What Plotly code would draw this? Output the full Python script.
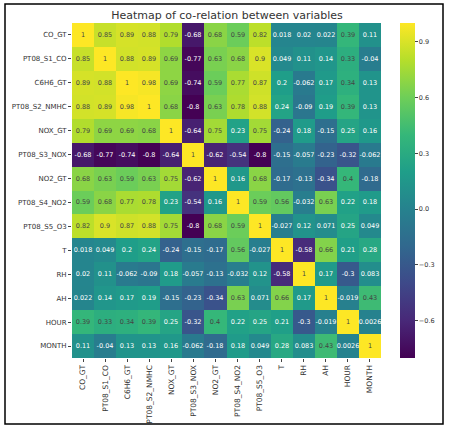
import plotly.graph_objects as go

labels = ["CO_GT", "PT08_S1_CO", "C6H6_GT", "PT08_S2_NMHC", "NOX_GT", "PT08_S3_NOX",
          "NO2_GT", "PT08_S4_NO2", "PT08_S5_O3", "T", "RH", "AH", "HOUR", "MONTH"]

row_CO_GT        = [1, 0.85, 0.89, 0.88, 0.79, -0.68, 0.68, 0.59, 0.82, 0.018, 0.02, 0.022, 0.39, 0.11]
row_PT08_S1_CO   = [0.85, 1, 0.88, 0.89, 0.69, -0.77, 0.63, 0.68, 0.9, 0.049, 0.11, 0.14, 0.33, -0.04]
row_C6H6_GT      = [0.89, 0.88, 1, 0.98, 0.69, -0.74, 0.59, 0.77, 0.87, 0.2, -0.062, 0.17, 0.34, 0.13]
row_PT08_S2_NMHC = [0.88, 0.89, 0.98, 1, 0.68, -0.8, 0.63, 0.78, 0.88, 0.24, -0.09, 0.19, 0.39, 0.13]
row_NOX_GT       = [0.79, 0.69, 0.69, 0.68, 1, -0.64, 0.75, 0.23, 0.75, -0.24, 0.18, -0.15, 0.25, 0.16]
row_PT08_S3_NOX  = [-0.68, -0.77, -0.74, -0.8, -0.64, 1, -0.62, -0.54, -0.8, -0.15, -0.057, -0.23, -0.32, -0.062]
row_NO2_GT       = [0.68, 0.63, 0.59, 0.63, 0.75, -0.62, 1, 0.16, 0.68, -0.17, -0.13, -0.34, 0.4, -0.18]
row_PT08_S4_NO2  = [0.59, 0.68, 0.77, 0.78, 0.23, -0.54, 0.16, 1, 0.59, 0.56, -0.032, 0.63, 0.22, 0.18]
row_PT08_S5_O3   = [0.82, 0.9, 0.87, 0.88, 0.75, -0.8, 0.68, 0.59, 1, -0.027, 0.12, 0.071, 0.25, 0.049]
row_T            = [0.018, 0.049, 0.2, 0.24, -0.24, -0.15, -0.17, 0.56, -0.027, 1, -0.58, 0.66, 0.21, 0.28]
row_RH           = [0.02, 0.11, -0.062, -0.09, 0.18, -0.057, -0.13, -0.032, 0.12, -0.58, 1, 0.17, -0.3, 0.083]
row_AH           = [0.022, 0.14, 0.17, 0.19, -0.15, -0.23, -0.34, 0.63, 0.071, 0.66, 0.17, 1, -0.019, 0.43]
row_HOUR         = [0.39, 0.33, 0.34, 0.39, 0.25, -0.32, 0.4, 0.22, 0.25, 0.21, -0.3, -0.019, 1, 0.0026]
row_MONTH        = [0.11, -0.04, 0.13, 0.13, 0.16, -0.062, -0.18, 0.18, 0.049, 0.28, 0.083, 0.43, 0.0026, 1]

z = [row_CO_GT, row_PT08_S1_CO, row_C6H6_GT, row_PT08_S2_NMHC, row_NOX_GT, row_PT08_S3_NOX,
     row_NO2_GT, row_PT08_S4_NO2, row_PT08_S5_O3, row_T, row_RH, row_AH, row_HOUR, row_MONTH]

cbar_ticks = [-0.6, -0.3, 0.0, 0.3, 0.6, 0.9]

text = [[f"{v:.2g}" for v in row] for row in z]

W, H = 450, 428
L, R, T, B = 72, 69, 23, 70
pw, ph = W - L - R, H - T - B

fig = go.Figure(go.Heatmap(
    z=z, x=labels, y=labels, text=text, texttemplate="%{text}",
    textfont=dict(size=6.5, family="DejaVu Sans"),
    colorscale="Viridis", zmin=-0.8, zmax=1.0,
    xgap=0, ygap=0,
    colorbar=dict(x=(400 - L) / pw, xanchor="left", xref="paper", xpad=0, ypad=0,
                  y=0, yanchor="bottom", len=1, lenmode="fraction",
                  thickness=15, outlinewidth=0,
                  tickvals=cbar_ticks, ticktext=[f"{v:.1f}".replace("-", "\u2212") for v in cbar_ticks],
                  ticks="outside", ticklen=3,
                  tickfont=dict(size=6.5, family="DejaVu Sans", color="#333")),
))

fig.update_layout(
    width=W, height=H,
    margin=dict(l=L, r=R, t=T, b=B, autoexpand=False),
    paper_bgcolor="white", plot_bgcolor="white",
    font=dict(family="DejaVu Sans", color="#333"),
    title=dict(text="Heatmap of co-relation between variables",
               x=(227 - L) / pw, xref="paper", xanchor="center",
               y=1 - 15 / H, yanchor="middle",
               font=dict(size=11, color="#333")),
    xaxis=dict(tickangle=-90, tickfont=dict(size=7.5), ticks="outside", ticklen=3,
               showgrid=False, zeroline=False),
    yaxis=dict(autorange="reversed", tickfont=dict(size=7), ticks="outside", ticklen=3,
               showgrid=False, zeroline=False),
    shapes=[dict(type="rect", xref="paper", yref="paper",
                 x0=(5 - L) / pw, x1=(443 - L) / pw,
                 y0=(H - B - 424) / ph, y1=1 + (T - 4) / ph,
                 line=dict(color="black", width=1.5), fillcolor="rgba(0,0,0,0)")],
)

fig.write_html("out.html")
